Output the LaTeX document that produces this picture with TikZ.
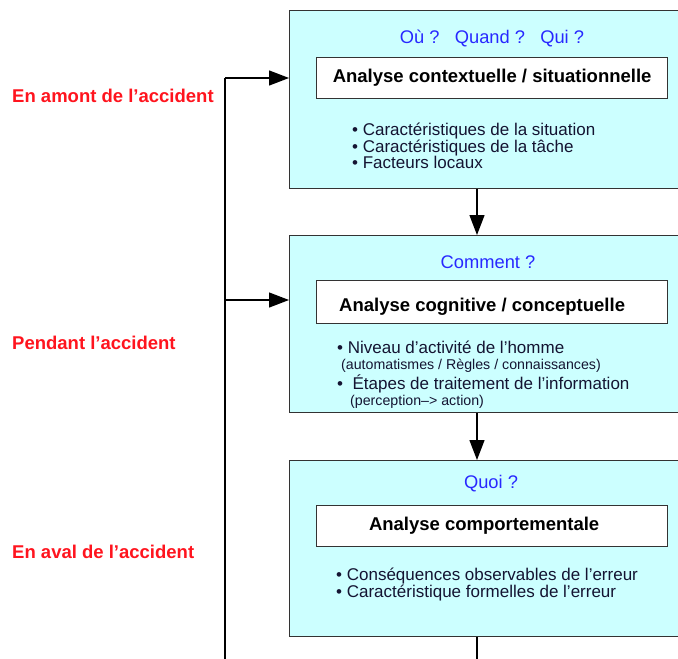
\documentclass[tikz,border=0pt]{standalone}
\usepackage{fontspec}
\setmainfont{Liberation Sans}
\usetikzlibrary{arrows.meta}
\definecolor{cyanfill}{RGB}{204,255,255}
\definecolor{qblue}{RGB}{40,40,255}
\definecolor{lblred}{RGB}{255,20,30}
\definecolor{txtdark}{RGB}{20,20,50}
\tikzset{
  phase/.style={draw=black!80,line width=1.3pt,fill=cyanfill,minimum width=392pt,anchor=north west,inner sep=0pt},
  title/.style={draw=black!80,line width=1.3pt,fill=white,minimum width=351pt,anchor=north west,inner sep=0pt,font=\fontsize{18.5}{20}\selectfont\bfseries},
  quest/.style={text=qblue,font=\fontsize{18.3}{20}\selectfont},
  items/.style={text=txtdark,align=left,anchor=north west,inner sep=0pt,font=\fontsize{17}{16.5}\selectfont},
  when/.style={text=lblred,anchor=west,inner sep=0pt,font=\fontsize{18.5}{20}\selectfont\bfseries},
  flow/.style={line width=1.3pt,-{Triangle[length=20pt,width=15pt]}}
}
\newcommand{\pt}{\textbullet\ }
\newcommand{\sm}{\fontsize{14.2}{14}\selectfont}
\begin{document}
\begin{tikzpicture}[x=1pt,y=-1pt]
\useasboundingbox (0,0) rectangle (678,659);
% three phases
\node[phase,minimum height=178pt] (ctx) at (289,10) {};
\node[phase,minimum height=177pt] (cog) at (289,235) {};
\node[phase,minimum height=176pt] (comp) at (289,460) {};
% questions
\node[quest] (ctxQ) at (492,38) {Où ?\ \ \ Quand ?\ \ \ Qui ?};
\node[quest] (cogQ) at (488,262) {Comment ?};
\node[quest] (compQ) at (491,484) {Quoi ?};
% titles
\node[title,minimum height=41pt] (ctxT) at (316,57) {Analyse contextuelle / situationnelle};
\node[title,minimum height=43pt] (cogT) at (316,280) {\hspace*{-20pt}\raisebox{-5pt}[\height][\depth]{Analyse cognitive / conceptuelle}};
\node[title,minimum height=41pt] (compT) at (316,505) {\hspace*{-16pt}Analyse comportementale};
% contents
\node[items] (ctxL) at (352,123) {\pt Caractéristiques de la situation\\\pt Caractéristiques de la tâche\\\pt Facteurs locaux};
\node[items] (cogL) at (337,341) {\pt Niveau d’activité de l’homme\\[-1pt]
  \hspace*{4pt}{\sm(automatismes / Règles / connaissances)}\\[2pt]
  \pt\ Étapes de traitement de l’information\\[-1pt]
  \hspace*{13pt}{\sm(perception--> action)}};
\node[items] (compL) at (336,568) {\pt Conséquences observables de l’erreur\\\pt Caractéristique formelles de l’erreur};
% moments
\node[when] (before) at (12,96) {En amont de l’accident};
\node[when] (during) at (12,343) {Pendant l’accident};
\node[when] (after) at (12,552) {En aval de l’accident};
% connectors
\coordinate (loopT) at (225,78);
\coordinate (loopB) at (225,659);
\coordinate (loopM) at (225,300);
\coordinate (outB) at (477,659);
\draw[flow] (ctx.south -| 477,0) -- (cog.north -| 477,0);
\draw[flow] (cog.south -| 477,0) -- (comp.north -| 477,0);
\draw[line width=1.3pt] (comp.south -| outB) -- (outB);
\draw[line width=1.3pt] (loopB) -- (loopT);
\draw[flow] (loopT) -- (ctx.west |- loopT);
\draw[flow] (loopM) -- (cog.west |- loopM);
\end{tikzpicture}
\end{document}
